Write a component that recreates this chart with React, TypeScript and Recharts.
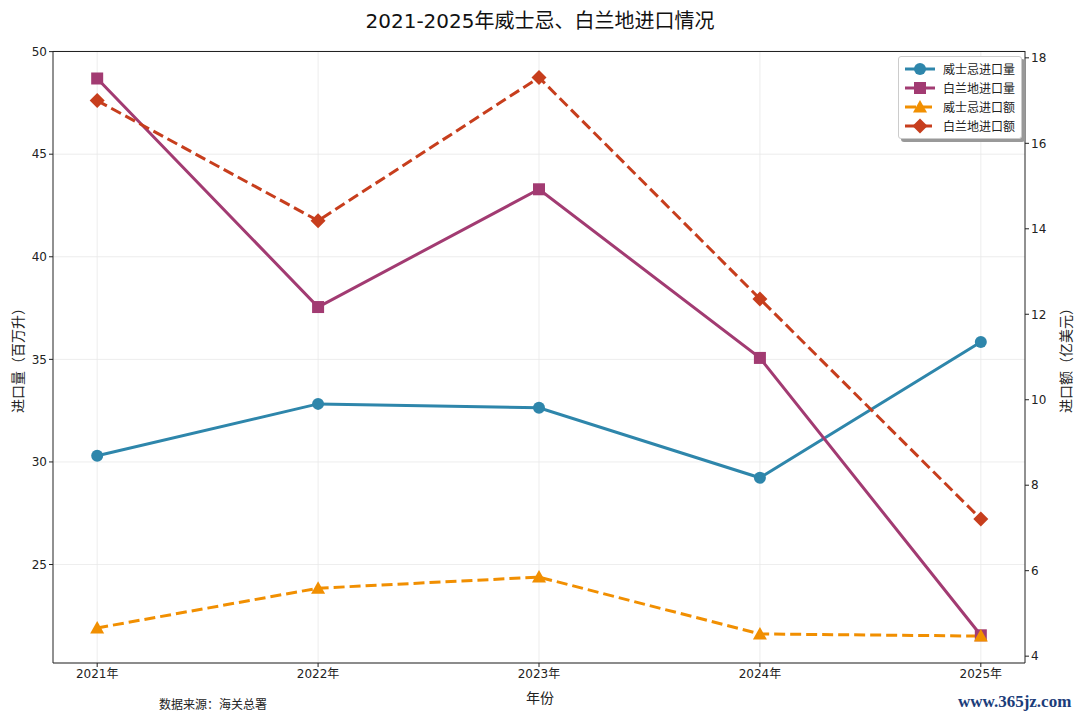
import React from 'react';
import { LineChart, Line, XAxis, YAxis, CartesianGrid } from 'recharts';

const years = ['2021年', '2022年', '2023年', '2024年', '2025年'];
const whiskyVolume = [30.3, 32.83, 32.64, 29.23, 35.85];
const brandyVolume = [48.69, 37.55, 43.29, 35.07, 21.55];
const whiskyValue = [4.66, 5.59, 5.85, 4.52, 4.47];
const brandyValue = [17.0, 14.19, 17.54, 12.36, 7.21];

const leftTicks = [25, 30, 35, 40, 45, 50];
const rightTicks = [4, 6, 8, 10, 12, 14, 16, 18];

const FONT = '"DejaVu Sans", "Noto Sans CJK SC", sans-serif';
const C_WV = '#2E86AB';
const C_BV = '#A23B72';
const C_WA = '#F18F01';
const C_BA = '#C73E1D';

const data = years.map((y, i) => ({
  idx: i,
  year: y,
  whiskyVolume: whiskyVolume[i],
  brandyVolume: brandyVolume[i],
  whiskyValue: whiskyValue[i],
  brandyValue: brandyValue[i],
}));

const series = [
  { key: 'whiskyVolume', name: '威士忌进口量', color: C_WV, axis: 'left', dash: undefined, shape: 'circle' },
  { key: 'brandyVolume', name: '白兰地进口量', color: C_BV, axis: 'left', dash: undefined, shape: 'square' },
  { key: 'whiskyValue', name: '威士忌进口额', color: C_WA, axis: 'right', dash: '11 5', shape: 'triangle' },
  { key: 'brandyValue', name: '白兰地进口额', color: C_BA, axis: 'right', dash: '11 5', shape: 'diamond' },
];

function Marker({ cx, cy, shape, color }: any) {
  if (cx == null || cy == null) return null;
  if (shape === 'circle') return <circle cx={cx} cy={cy} r={6} fill={color} />;
  if (shape === 'square') return <rect x={cx - 6} y={cy - 6} width={12} height={12} fill={color} />;
  if (shape === 'triangle')
    return <polygon points={`${cx},${cy - 7} ${cx + 7},${cy + 5.5} ${cx - 7},${cy + 5.5}`} fill={color} />;
  return <polygon points={`${cx},${cy - 7.5} ${cx + 7.5},${cy} ${cx},${cy + 7.5} ${cx - 7.5},${cy}`} fill={color} />;
}

function LegendBox() {
  return (
    <div
      style={{
        position: 'absolute',
        top: 56,
        right: 58,
        background: '#fff',
        border: '1px solid #ccc',
        borderRadius: 3,
        boxShadow: '3px 3px 0 #999',
        padding: '2px 6px 3px 4px',
        fontFamily: FONT,
        fontSize: 12,
        color: '#222',
      }}
    >
      {series.map((s) => (
        <div key={s.key} style={{ display: 'flex', alignItems: 'center', height: 19 }}>
          <svg width={34} height={16} style={{ marginRight: 6 }}>
            <line x1={2} y1={8} x2={32} y2={8} stroke={s.color} strokeWidth={3} strokeDasharray={s.dash} />
            <Marker cx={17} cy={8} shape={s.shape} color={s.color} />
          </svg>
          <span>{s.name}</span>
        </div>
      ))}
    </div>
  );
}

export default function App() {
  const tick = { fontFamily: FONT, fontSize: 12, fill: '#222' };
  return (
    <div style={{ position: 'absolute', left: 0, top: 0, width: 1080, height: 719, background: '#fff', fontFamily: FONT }}>
      <div style={{ position: 'absolute', top: 5, left: 0, width: 1080, textAlign: 'center', fontSize: 20, color: '#111' }}>
        2021-2025年威士忌、白兰地进口情况
      </div>
      <LineChart width={1080} height={719} data={data} margin={{ top: 51, right: 10, bottom: 26, left: 8 }}>
        <CartesianGrid yAxisId="left" stroke="#e8e8e8" strokeWidth={0.8} verticalValues={[0, 1, 2, 3, 4]} />
        <XAxis
          dataKey="idx"
          type="number"
          domain={[-0.2, 4.2]}
          ticks={[0, 1, 2, 3, 4]}
          tickFormatter={(v: number) => years[v]}
          tick={tick}
          tickSize={4}
          height={30}
          stroke="#222"
          interval={0}
        />
        <YAxis
          yAxisId="left"
          domain={[20.2, 50.03]}
          ticks={leftTicks}
          tick={tick}
          tickSize={4}
          width={45}
          stroke="#222"
          allowDataOverflow
        />
        <YAxis
          yAxisId="right"
          orientation="right"
          domain={[3.84, 18.16]}
          ticks={rightTicks}
          tick={tick}
          tickSize={4}
          width={45}
          stroke="#222"
          allowDataOverflow
        />
        {series.map((s) => (
          <Line
            key={s.key}
            yAxisId={s.axis}
            dataKey={s.key}
            name={s.name}
            type="linear"
            stroke={s.color}
            strokeWidth={3}
            strokeDasharray={s.dash}
            dot={(p: any) => <Marker key={`${s.key}-${p.index}`} cx={p.cx} cy={p.cy} shape={s.shape} color={s.color} />}
            activeDot={false}
            isAnimationActive={false}
          />
        ))}
      </LineChart>
      <LegendBox />
      <div
        style={{
          position: 'absolute',
          left: 53,
          top: 51,
          width: 972,
          height: 612,
          boxSizing: 'border-box',
          borderTop: '1px solid #222',
          pointerEvents: 'none',
        }}
      />
      <div style={{ position: 'absolute', top: 687, left: 0, width: 1080, textAlign: 'center', fontSize: 14, color: '#222' }}>
        年份
      </div>
      <div
        style={{
          position: 'absolute',
          left: 17,
          top: 357,
          transform: 'translate(-50%, -50%) rotate(-90deg)',
          whiteSpace: 'nowrap',
          fontSize: 14,
          color: '#222',
        }}
      >
        进口量（百万升）
      </div>
      <div
        style={{
          position: 'absolute',
          left: 1065,
          top: 357,
          transform: 'translate(-50%, -50%) rotate(-90deg)',
          whiteSpace: 'nowrap',
          fontSize: 14,
          color: '#222',
        }}
      >
        进口额（亿美元）
      </div>
      <div style={{ position: 'absolute', left: 159, top: 695, fontSize: 12, color: '#222' }}>数据来源：海关总署</div>
      <div
        style={{
          position: 'absolute',
          left: 958,
          top: 692,
          fontSize: 17,
          fontWeight: 'bold',
          fontFamily: '"Liberation Serif", serif',
          color: '#1b3d7a',
        }}
      >
        www.365jz.com
      </div>
    </div>
  );
}
